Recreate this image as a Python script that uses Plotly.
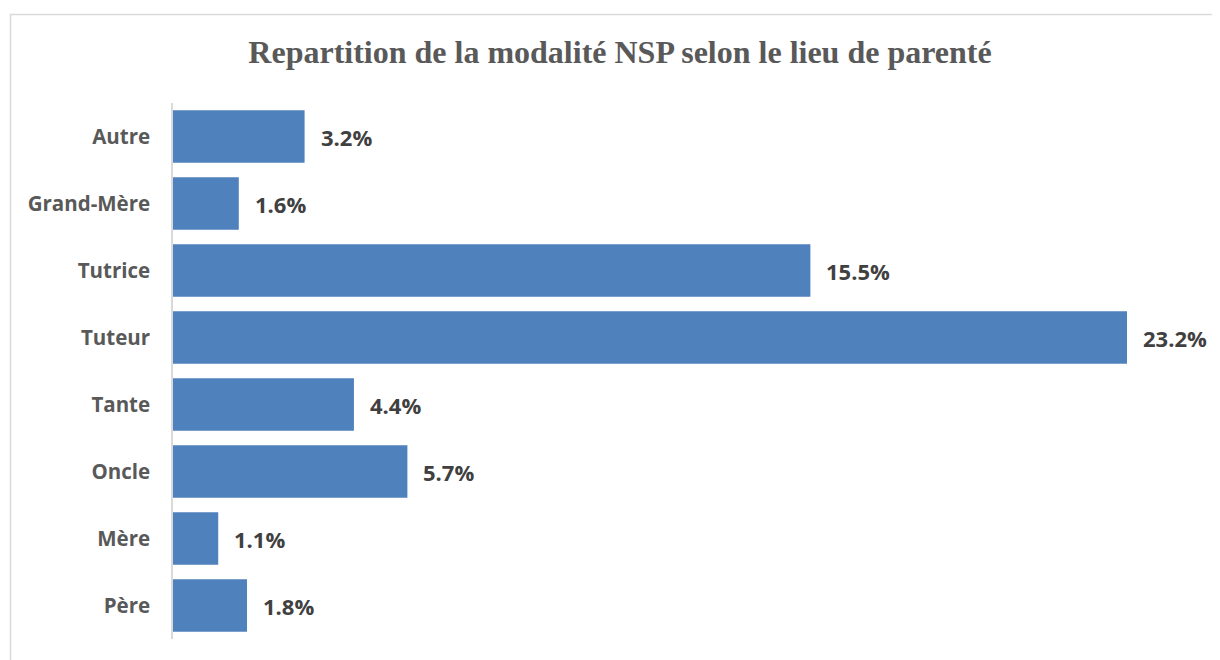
import plotly.graph_objects as go

categories = ["Père", "Mère", "Oncle", "Tante", "Tuteur", "Tutrice", "Grand-Mère", "Autre"]
values = [1.8, 1.1, 5.7, 4.4, 23.2, 15.5, 1.6, 3.2]
value_labels = [f"{v:.1f}%" for v in values]

BAR_COLOR = "#4F81BD"
TEXT_GRAY = "#595959"
LABEL_DARK = "#404040"

fig = go.Figure()
fig.add_trace(go.Bar(
    x=values, y=categories, orientation="h",
    marker=dict(color=BAR_COLOR, line=dict(width=0)),
    width=0.78, hoverinfo="x+y",
))

for v, c, t in zip(values, categories, value_labels):
    fig.add_annotation(x=v, y=c, text=t, showarrow=False, xanchor="left",
                       xshift=14, font=dict(family="Open Sans", size=22, color=LABEL_DARK, weight="bold"))

OFF = 8  # page body margin
W, H = 1220 - OFF, 660 - OFF
L, R, T, B = 173 - OFF, 1127 - OFF, 103 - OFF, 639 - OFF

def px_to_paper_x(px):
    return (px - OFF - L) / (R - L)

def px_to_paper_y(py):
    return (B - (py - OFF)) / (B - T)

fig.add_shape(type="rect", xref="paper", yref="paper",
              x0=px_to_paper_x(10.5), x1=px_to_paper_x(1240),
              y0=px_to_paper_y(690), y1=px_to_paper_y(14.5),
              line=dict(color="#D9D9D9", width=1.5), layer="below")

fig.update_layout(
    width=W, height=H,
    margin=dict(l=L, r=W - R, t=T, b=H - B, autoexpand=False),
    paper_bgcolor="white", plot_bgcolor="white",
    title=dict(text="<b>Repartition de la modalité NSP selon le lieu de parenté</b>",
               x=(620 - OFF) / W, xanchor="center", y=1 - (52 - OFF) / H, yanchor="middle",
               font=dict(family="Liberation Serif", size=32, color=TEXT_GRAY)),
    showlegend=False,
    bargap=0.22,
)
fig.update_xaxes(range=[0, 23.2], visible=False, fixedrange=True)
fig.update_yaxes(
    showline=True, linecolor="#D9D9D9", linewidth=1.5,
    ticks="", ticklabelstandoff=17,
    tickfont=dict(family="Open Sans", size=20.5, color=TEXT_GRAY, weight="bold"),
    showgrid=False, zeroline=False, fixedrange=True,
)

fig.write_html("out.html")
